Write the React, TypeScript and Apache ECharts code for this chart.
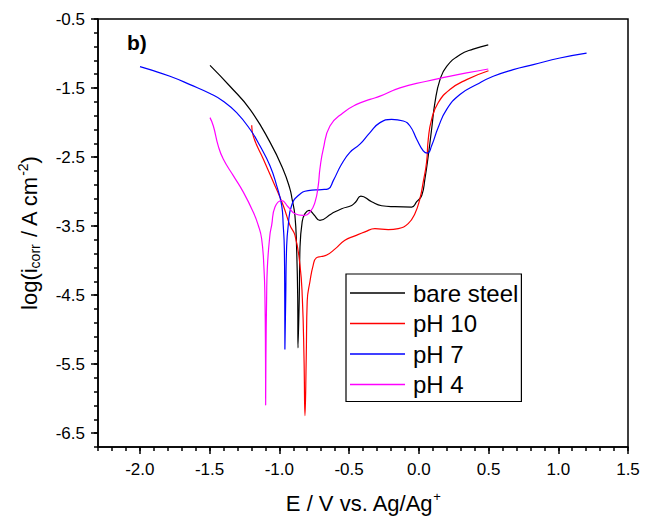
import React, { useEffect, useRef } from "react";
import * as echarts from "echarts";

// ---- data (E / V vs Ag/Ag+, log(i)) ----
const bareSteelE = [-1.497, -1.354, -1.21, -1.067, -0.974, -0.924, -0.909, -0.888, -0.876, -0.868, -0.866, -0.857, -0.852, -0.836, -0.816, -0.787, -0.752, -0.709, -0.625, -0.553, -0.481, -0.451, -0.415, -0.338, -0.266, -0.171, -0.051, -0.015, 0.021, 0.044, 0.068, 0.092, 0.116, 0.152, 0.2, 0.295, 0.39, 0.498];
const bareSteelLogI = [-1.172, -1.474, -1.809, -2.284, -2.673, -2.96, -3.104, -3.349, -3.824, -4.543, -5.263, -4.543, -3.824, -3.435, -3.32, -3.273, -3.335, -3.417, -3.32, -3.248, -3.201, -3.147, -3.065, -3.147, -3.205, -3.219, -3.224, -3.147, -3.057, -2.817, -2.481, -2.097, -1.709, -1.378, -1.186, -1.018, -0.936, -0.874];

const pH10E = [-1.198, -1.187, -1.115, -1.043, -0.972, -0.924, -0.888, -0.852, -0.835, -0.823, -0.816, -0.807, -0.8, -0.78, -0.757, -0.735, -0.7, -0.66, -0.6, -0.53, -0.458, -0.386, -0.314, -0.219, -0.147, -0.076, -0.028, 0.008, 0.032, 0.056, 0.068, 0.092, 0.139, 0.223, 0.343, 0.5];
const pH10LogI = [-2.04, -2.193, -2.529, -2.86, -3.201, -3.488, -3.632, -4.064, -4.543, -5.406, -6.245, -5.406, -4.586, -4.299, -4.064, -3.96, -3.94, -3.92, -3.83, -3.704, -3.641, -3.583, -3.536, -3.55, -3.536, -3.464, -3.32, -3.104, -2.86, -2.572, -2.241, -1.953, -1.713, -1.522, -1.378, -1.25];

const pH7E = [-1.999, -1.927, -1.784, -1.64, -1.497, -1.402, -1.306, -1.21, -1.139, -1.067, -1.019, -0.983, -0.972, -0.964, -0.961, -0.96, -0.954, -0.948, -0.936, -0.912, -0.864, -0.793, -0.696, -0.649, -0.613, -0.553, -0.494, -0.422, -0.35, -0.278, -0.195, -0.111, -0.063, -0.015, 0.032, 0.063, 0.092, 0.139, 0.2, 0.295, 0.415, 0.534, 0.677, 0.821, 1.012, 1.203];
const pH7LogI = [-1.191, -1.234, -1.33, -1.45, -1.579, -1.69, -1.857, -2.097, -2.337, -2.625, -2.913, -3.201, -3.488, -3.824, -4.543, -5.287, -4.543, -3.824, -3.488, -3.201, -3.057, -2.985, -2.971, -2.96, -2.841, -2.601, -2.432, -2.313, -2.145, -2.001, -1.953, -1.978, -2.05, -2.241, -2.409, -2.442, -2.337, -2.073, -1.809, -1.594, -1.45, -1.33, -1.234, -1.162, -1.065, -0.994];

const pH4E = [-1.497, -1.473, -1.438, -1.402, -1.33, -1.258, -1.187, -1.151, -1.127, -1.11, -1.103, -1.099, -1.098, -1.096, -1.091, -1.086, -1.067, -1.055, -1.031, -0.983, -0.936, -0.888, -0.828, -0.78, -0.744, -0.721, -0.709, -0.685, -0.637, -0.542, -0.446, -0.35, -0.278, -0.135, 0.056, 0.2, 0.343, 0.498];
const pH4LogI = [-1.929, -2.05, -2.337, -2.529, -2.769, -3.008, -3.296, -3.488, -3.68, -4.112, -4.543, -5.406, -6.093, -5.406, -4.543, -4.112, -3.622, -3.488, -3.224, -3.129, -3.224, -3.32, -3.345, -3.296, -3.152, -2.913, -2.673, -2.385, -2.05, -1.857, -1.737, -1.665, -1.618, -1.497, -1.402, -1.339, -1.281, -1.224];

const seriesNames = ["bare steel", "pH 10", "pH 7", "pH 4"];
const seriesColors = ["#000000", "#ff0000", "#0000ff", "#ff00ff"];

const xMajorTicks = [-2.0, -1.5, -1.0, -0.5, 0.0, 0.5, 1.0, 1.5];
const yMajorTicks = [-6.5, -5.5, -4.5, -3.5, -2.5, -1.5, -0.5];

const FONT = "'Liberation Sans', Arial, sans-serif";

function pairs(xs: number[], ys: number[]) {
  return xs.map((x, i) => [x, ys[i]]);
}

export default function App() {
  const ref = useRef<HTMLDivElement>(null);
  useEffect(() => {
    if (!ref.current) return;
    const chart = echarts.init(ref.current, null, { renderer: "svg" });
    const lineStyle = { color: "#000", width: 1.5 };
    const dataSets = [
      pairs(bareSteelE, bareSteelLogI),
      pairs(pH10E, pH10LogI),
      pairs(pH7E, pH7LogI),
      pairs(pH4E, pH4LogI),
    ];
    chart.setOption({
      animation: false,
      backgroundColor: "#ffffff",
      grid: {
        left: 98,
        right: 26,
        top: 19,
        bottom: 69,
        show: true,
        borderColor: "#000",
        borderWidth: 1.5,
        backgroundColor: "transparent",
      },
      xAxis: [
        {
          type: "value",
          position: "bottom",
          min: -2.3,
          max: 1.5,
          interval: 0.1,
          axisLine: { show: true, onZero: false, lineStyle },
          axisTick: { show: true, inside: false, length: 4, lineStyle },
          axisLabel: {
            customValues: xMajorTicks,
            formatter: (v: number) => v.toFixed(1),
            fontSize: 17,
            color: "#000",
            fontFamily: FONT,
            margin: 14,
          },
          splitLine: { show: false },
          name: "{m|E / V vs. Ag/Ag}{p|+}",
          nameLocation: "middle",
          nameGap: 43,
          nameTextStyle: {
            rich: {
              m: { fontSize: 22, fontFamily: FONT, color: "#000", lineHeight: 26 },
              p: { fontSize: 13, fontFamily: FONT, color: "#000", lineHeight: 13, verticalAlign: "top" },
            },
          },
        },
        {
          type: "value",
          position: "bottom",
          min: -2.3,
          max: 1.5,
          interval: 0.1,
          axisLine: { show: false, onZero: false },
          axisTick: { show: true, inside: false, length: 7, customValues: xMajorTicks, lineStyle },
          axisLabel: { show: false },
          splitLine: { show: false },
        },
      ],
      yAxis: [
        {
          type: "value",
          position: "left",
          min: -6.7,
          max: -0.5,
          interval: 0.2,
          axisLine: { show: true, onZero: false, lineStyle },
          axisTick: { show: true, inside: false, length: 4, lineStyle },
          axisLabel: {
            customValues: yMajorTicks,
            formatter: (v: number) => v.toFixed(1),
            fontSize: 17,
            color: "#000",
            fontFamily: FONT,
            margin: 13,
          },
          splitLine: { show: false },
          name: "{m|log(i}{s|corr}{m| / A cm}{p|-2}{m|)}",
          nameLocation: "middle",
          nameRotate: 90,
          nameGap: 56,
          nameTextStyle: {
            rich: {
              m: { fontSize: 22, fontFamily: FONT, color: "#000", lineHeight: 26 },
              s: { fontSize: 14, fontFamily: FONT, color: "#000", lineHeight: 14, verticalAlign: "bottom" },
              p: { fontSize: 14, fontFamily: FONT, color: "#000", lineHeight: 14, verticalAlign: "top" },
            },
          },
        },
        {
          type: "value",
          position: "left",
          min: -6.7,
          max: -0.5,
          interval: 0.2,
          axisLine: { show: false, onZero: false },
          axisTick: { show: true, inside: false, length: 7, customValues: yMajorTicks, lineStyle },
          axisLabel: { show: false },
          splitLine: { show: false },
        },
      ],
      legend: {
        data: seriesNames.map((name) => ({ name, icon: "rect" })),
        orient: "vertical",
        left: 346,
        top: 274,
        itemWidth: 55,
        itemHeight: 1.5,
        itemGap: 6.5,
        padding: [7, 3, 5, 4],
        borderColor: "#000",
        borderWidth: 1.2,
        backgroundColor: "#fff",
        textStyle: { fontSize: 24, fontFamily: FONT, color: "#000", lineHeight: 24, padding: [0, 0, 0, 3] },
      },
      graphic: [
        {
          type: "text",
          left: 127,
          top: 32,
          style: { text: "b)", fontSize: 21, fontWeight: "bold", fontFamily: FONT, fill: "#000" },
        },
      ],
      series: seriesNames.map((name, i) => ({
        name,
        type: "line",
        xAxisIndex: 0,
        yAxisIndex: 0,
        data: dataSets[i],
        symbol: "none",
        smooth: 0.5,
        lineStyle: { color: seriesColors[i], width: 1.2 },
        itemStyle: { color: seriesColors[i] },
      })),
    });
    return () => chart.dispose();
  }, []);
  return (
    <div
      ref={ref}
      style={{ position: "fixed", left: 0, top: 0, width: 654, height: 519 }}
    />
  );
}
